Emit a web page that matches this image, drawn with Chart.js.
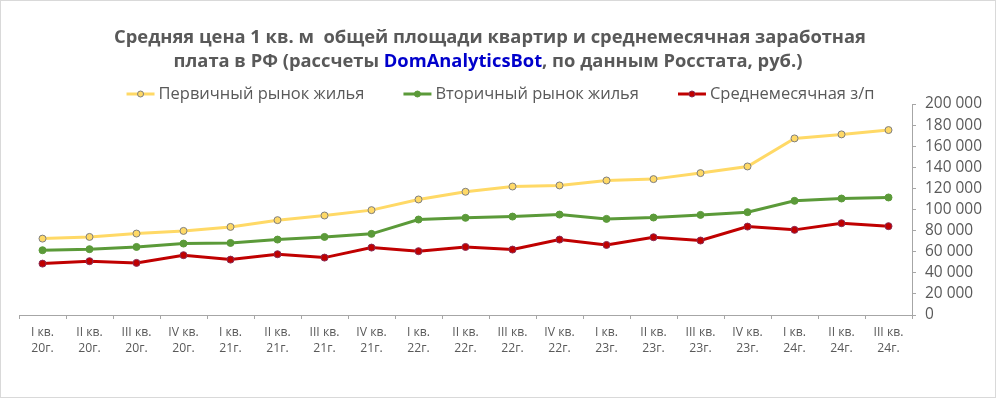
<!DOCTYPE html>
<html><head><meta charset="utf-8">
<script src="https://cdn.jsdelivr.net/npm/chart.js@4"></script>
<style>html,body{margin:0;padding:0;background:#fff;}</style>
</head><body>
<canvas id="c" width="996" height="398"></canvas>
<script>
const categories = [
  ["I кв.","20г."],["II кв.","20г."],["III кв.","20г."],["IV кв.","20г."],
  ["I кв.","21г."],["II кв.","21г."],["III кв.","21г."],["IV кв.","21г."],
  ["I кв.","22г."],["II кв.","22г."],["III кв.","22г."],["IV кв.","22г."],
  ["I кв.","23г."],["II кв.","23г."],["III кв.","23г."],["IV кв.","23г."],
  ["I кв.","24г."],["II кв.","24г."],["III кв.","24г."]
];
const seriesNames = ["Первичный рынок жилья","Вторичный рынок жилья","Среднемесячная з/п"];
const primaryMarket = [72400,74000,77200,79700,83500,89900,94300,99400,109500,116800,121800,122800,127500,128800,134500,140800,167400,171200,175300];
const secondaryMarket = [61400,62400,64500,67700,68300,71500,74000,76900,90500,92100,93300,95200,91100,92400,94900,97500,108200,110400,111400];
const avgWage = [48700,51000,49400,56700,52500,57600,54400,63900,60500,64500,62000,71500,66400,73700,70600,83800,80700,87000,84200];
const yTicks = [0,20000,40000,60000,80000,100000,120000,140000,160000,180000,200000];
const titleLine1 = "Средняя цена 1 кв. м  общей площади квартир и среднемесячная заработная";
const titleLine2 = ["плата в РФ (рассчеты ", "DomAnalyticsBot", ", по данным Росстата, руб.)"];

const FAMILY = '"Open Sans", "Noto Sans", sans-serif';
const mctx = document.createElement('canvas').getContext('2d');
function fit(text, target, weight){ mctx.font = weight + ' 100px ' + FAMILY; return 100*target/mctx.measureText(text).width; }
const titleSize = fit(titleLine1, 752, 'bold');
const legendSize = fit(seriesNames[0], 206, 'normal');
const yTickSize = fit('200 000', 57, 'normal');
const xTickSize = fit('III кв.', 30, 'normal');
const GRAY = '#595959', AXIS = '#a6a6a6';

function fmt(v){ return String(v).replace(/\B(?=(\d{3})+(?!\d))/g, ' '); }

const deco = {
  id: 'deco',
  beforeDraw(chart){
    const ctx = chart.ctx; ctx.save(); ctx.fillStyle = '#fff'; ctx.fillRect(0,0,chart.width,chart.height); ctx.restore();
  },
  afterDraw(chart){
    const ctx = chart.ctx; ctx.save();
    ctx.strokeStyle = '#d9d9d9'; ctx.lineWidth = 1; ctx.strokeRect(0.5,0.5,chart.width-1,chart.height-1);
    // title
    ctx.font = 'bold ' + titleSize + 'px ' + FAMILY; ctx.textBaseline = 'alphabetic'; ctx.textAlign = 'left';
    ctx.fillStyle = GRAY;
    const w1 = ctx.measureText(titleLine1).width;
    ctx.fillText(titleLine1, 490 - w1/2, 43);
    const ws = titleLine2.map(t => ctx.measureText(t).width);
    let x = 488 - ws.reduce((a,b)=>a+b,0)/2;
    titleLine2.forEach((t,i) => { ctx.fillStyle = i===1 ? '#0000cc' : GRAY; ctx.fillText(t, x, 67); x += ws[i]; });
    // legend
    ctx.font = legendSize + 'px ' + FAMILY; ctx.textBaseline = 'middle';
    const mw = 28, gap = 4, itemGap = 39, ly = 94;
    const tw = chart.data.datasets.map(d => ctx.measureText(d.label).width);
    const total = tw.reduce((a,b)=>a+b,0) + 3*(mw+gap) + 2*itemGap;
    x = 500.5 - total/2;
    chart.data.datasets.forEach((d,i) => {
      ctx.strokeStyle = d.borderColor; ctx.lineWidth = d.borderWidth;
      ctx.beginPath(); ctx.moveTo(x, ly); ctx.lineTo(x+mw, ly); ctx.stroke();
      ctx.beginPath(); ctx.arc(x+mw/2, ly, d.pointRadius-0.5, 0, Math.PI*2);
      ctx.fillStyle = d.pointBackgroundColor; ctx.fill();
      ctx.lineWidth = 1; ctx.strokeStyle = d.pointBorderColor; ctx.stroke();
      ctx.fillStyle = GRAY; ctx.fillText(d.label, x+mw+gap, ly);
      x += mw + gap + tw[i] + itemGap;
    });
    ctx.restore();
  }
};

new Chart(document.getElementById('c'), {
  type: 'line',
  data: {
    labels: categories,
    datasets: [
      { label: seriesNames[0], data: primaryMarket, borderColor: '#ffd966', borderWidth: 3,
        pointRadius: 3.5, pointBackgroundColor: '#ffd966', pointBorderColor: '#7f7f7f', pointBorderWidth: 1, tension: 0 },
      { label: seriesNames[1], data: secondaryMarket, borderColor: '#5b9a39', borderWidth: 3,
        pointRadius: 3.5, pointBackgroundColor: '#5b9a39', pointBorderColor: '#5b9a39', pointBorderWidth: 1, tension: 0 },
      { label: seriesNames[2], data: avgWage, borderColor: '#c00000', borderWidth: 3,
        pointRadius: 3.5, pointBackgroundColor: '#c00000', pointBorderColor: '#8a2d55', pointBorderWidth: 1, tension: 0 }
    ]
  },
  options: {
    responsive: false, animation: false, devicePixelRatio: 1,
    layout: { padding: { top: 104, left: 19, right: 0, bottom: 0 } },
    plugins: { legend: { display: false }, title: { display: false }, tooltip: { enabled: false } },
    scales: {
      x: {
        offset: true,
        grid: { offset: true, drawOnChartArea: false, tickLength: 4, color: AXIS },
        border: { color: AXIS },
        ticks: { color: GRAY, font: { family: FAMILY, size: xTickSize, lineHeight: '16px' }, padding: 6, maxRotation: 0, autoSkip: false },
        afterFit(s){ s.height = 83; }
      },
      y: {
        position: 'right', min: 0, max: 200000,
        afterBuildTicks(s){ s.ticks = yTicks.map(v => ({value: v})); },
        grid: { drawOnChartArea: false, tickLength: 4, color: AXIS },
        border: { color: AXIS },
        ticks: { color: GRAY, font: { family: FAMILY, size: yTickSize }, padding: 9, autoSkip: false, callback: v => fmt(v) },
        afterFit(s){ s.width = 84; }
      }
    }
  },
  plugins: [deco]
});
</script>
</body></html>
